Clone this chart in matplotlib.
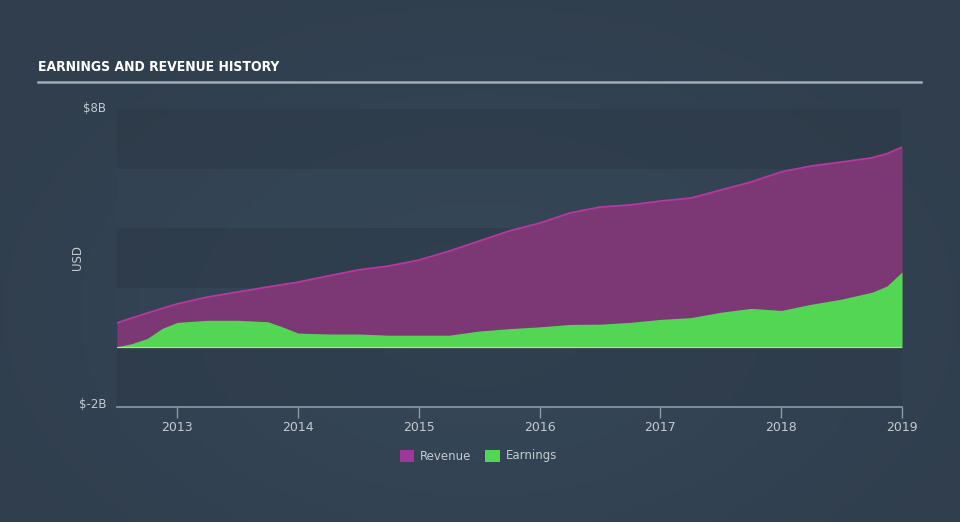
import numpy as np
import matplotlib.pyplot as plt

# dates (decimal years) and values in $B
dates = [2012.5, 2012.625, 2012.75, 2012.875, 2013.0, 2013.25, 2013.5, 2013.75, 2013.875,
         2014.0, 2014.25, 2014.5, 2014.75, 2015.0, 2015.25, 2015.5, 2015.75, 2016.0,
         2016.25, 2016.5, 2016.75, 2017.0, 2017.25, 2017.5, 2017.75, 2018.0, 2018.25,
         2018.5, 2018.75, 2018.875, 2019.0]
revenue = [0.82, 0.99, 1.15, 1.31, 1.46, 1.69, 1.86, 2.03, 2.11,
           2.19, 2.40, 2.60, 2.73, 2.93, 3.23, 3.57, 3.91, 4.17,
           4.51, 4.71, 4.78, 4.91, 5.01, 5.28, 5.55, 5.89, 6.09,
           6.22, 6.36, 6.50, 6.72]
earnings = [0.02, 0.13, 0.30, 0.64, 0.84, 0.91, 0.91, 0.86, 0.68,
            0.48, 0.45, 0.45, 0.41, 0.41, 0.41, 0.55, 0.63, 0.69,
            0.77, 0.78, 0.84, 0.94, 1.00, 1.18, 1.31, 1.24, 1.45,
            1.62, 1.85, 2.06, 2.53]
years = [2013, 2014, 2015, 2016, 2017, 2018, 2019]
ylabels = ["$8B", "$-2B"]

rev_fill = "#7b3875"
rev_line = "#b8389f"
earn_col = "#53d653"
text_col = "#c3cad2"

fig = plt.figure(figsize=(9.6, 5.22), dpi=100)

# soft background gradient
bg = fig.add_axes([0, 0, 1, 1], zorder=-10)
gx = np.linspace(-1, 1, 200)
gy = np.linspace(-1, 1, 120)
X, Y = np.meshgrid(gx, gy)
r = np.clip(np.sqrt(X**2 * 0.7 + (Y - 0.2)**2 * 0.5), 0, 1)
c0 = np.array([0x36, 0x48, 0x5a]) / 255
c1 = np.array([0x30, 0x3e, 0x4d]) / 255
img = c0[None, None, :] * (1 - r[..., None]) + c1[None, None, :] * r[..., None]
bg.imshow(img, aspect="auto", extent=[0, 1, 0, 1])
bg.axis("off")

ax = fig.add_axes([117 / 960, 115 / 522, 785 / 960, 298 / 522])
ax.set_facecolor("none")
for lo in (-2, 2, 6):
    ax.axhspan(lo, lo + 2, color="#2c3947", alpha=0.5, lw=0, zorder=0)
for lo in (0, 4):
    ax.axhspan(lo, lo + 2, color="#354657", alpha=0.4, lw=0, zorder=0)

ax.fill_between(dates, 0, revenue, color=rev_fill, lw=0, zorder=2)
ax.plot(dates, revenue, color=rev_line, lw=1.3, zorder=3)
ax.fill_between(dates, 0, earnings, color=earn_col, lw=0, zorder=4)
ax.axhline(0, color="#d8c9a0", lw=0.9, zorder=5)

ax.set_xlim(2012.5, 2019.0)
ax.set_ylim(-2, 8)
ax.set_xticks(years)
ax.set_xticklabels([str(y) for y in years], color=text_col, fontsize=9)
ax.set_yticks([])
ax.tick_params(axis="x", length=8, width=1, color="#8b99a8", pad=2)
for s in ("top", "right", "left"):
    ax.spines[s].set_visible(False)
ax.spines["bottom"].set_color("#8b99a8")
ax.spines["bottom"].set_linewidth(1.2)

fig.text(106 / 960, 1 - 109 / 522, ylabels[0], color=text_col, fontsize=8.5,
         ha="right", va="center")
fig.text(106 / 960, 1 - 404 / 522, ylabels[1], color=text_col, fontsize=8.5,
         ha="right", va="center")
fig.text(78 / 960, 1 - 258 / 522, "USD", color=text_col, fontsize=8.5,
         rotation=90, ha="center", va="center")

fig.text(38 / 960, 1 - 67 / 522, "EARNINGS AND REVENUE HISTORY", color="white",
         fontsize=10, fontweight="bold", fontstretch="condensed", family="DejaVu Sans",
         ha="left", va="center")
fig.add_artist(plt.Line2D([38 / 960, 921 / 960], [1 - 82 / 522, 1 - 82 / 522],
                          color="#a3abb4", lw=1.8))

# legend
fig.patches.append(plt.Rectangle((400 / 960, 1 - 462 / 522), 14 / 960, 12 / 522,
                                 transform=fig.transFigure, color="#a0359a", lw=0))
fig.text(420 / 960, 1 - 456 / 522, "Revenue", color=text_col, fontsize=8.5, va="center")
fig.patches.append(plt.Rectangle((485 / 960, 1 - 462 / 522), 15 / 960, 12 / 522,
                                 transform=fig.transFigure, color=earn_col, lw=0))
fig.text(506 / 960, 1 - 456 / 522, "Earnings", color=text_col, fontsize=8.5, va="center")

fig.savefig("out.png", dpi=100)
